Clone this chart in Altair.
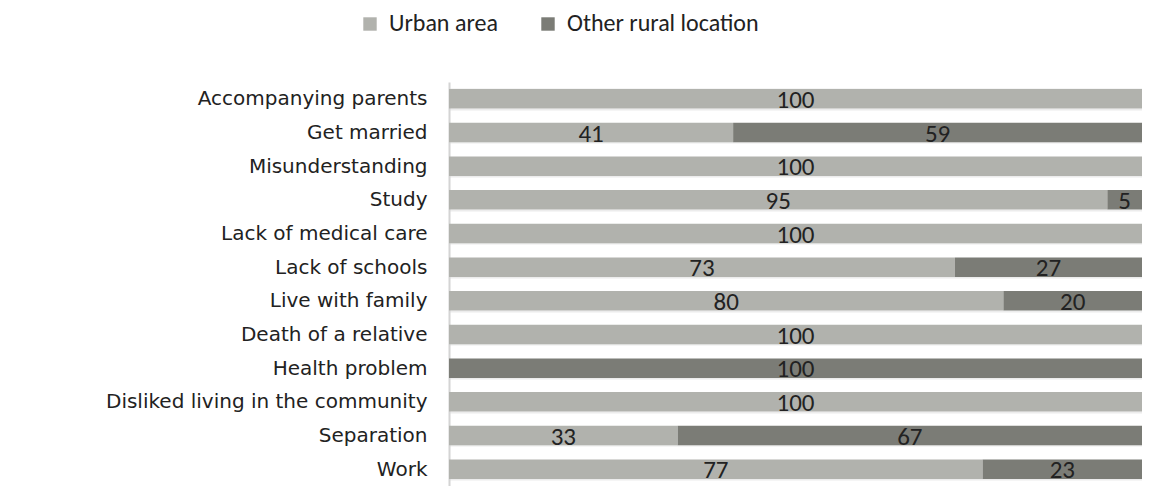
import altair as alt
import pandas as pd

categories = [
    "Accompanying parents", "Get married", "Misunderstanding", "Study",
    "Lack of medical care", "Lack of schools", "Live with family",
    "Death of a relative", "Health problem", "Disliked living in the community",
    "Separation", "Work",
]
urban = [100, 41, 100, 95, 100, 73, 80, 100, 0, 100, 33, 77]
other_rural = [0, 59, 0, 5, 0, 27, 20, 0, 100, 0, 67, 23]
series = ["Urban area", "Other rural location"]
colors = ["#b1b2ad", "#7b7c76"]

rows = []
for c, u, o in zip(categories, urban, other_rural):
    rows.append({"cat": c, "series": series[0], "value": u, "ord": 0})
    rows.append({"cat": c, "series": series[1], "value": o, "ord": 1})
df = pd.DataFrame(rows)

y_enc = alt.Y(
    "cat:N", sort=categories, title=None,
    scale=alt.Scale(paddingInner=0.42, paddingOuter=0.21),
    axis=alt.Axis(
        labelFont="DejaVu Sans", labelFontSize=20, labelColor="#222222",
        labelPadding=22, ticks=False, domainColor="#d4d4d4", domainWidth=2,
        grid=True, gridColor="#ececec", gridWidth=2, tickBand="extent",
        labelLimit=600,
    ),
)

bars = alt.Chart(df).mark_bar().encode(
    y=y_enc,
    x=alt.X("value:Q", stack="zero", scale=alt.Scale(domain=[0, 100]), axis=None),
    color=alt.Color(
        "series:N", sort=series,
        scale=alt.Scale(domain=series, range=colors),
        legend=alt.Legend(
            title=None, orient="none", direction="horizontal",
            legendX=-91, legendY=-70, symbolType="square", symbolSize=180,
            symbolStrokeWidth=0, labelFont="Carlito, Liberation Sans", labelFontSize=24,
            labelColor="#222222", labelOffset=7, columnPadding=38, padding=0,
            labelLimit=0,
        ),
    ),
    order=alt.Order("ord:Q"),
)

labels = alt.Chart(df).transform_stack(
    stack="value", groupby=["cat"], as_=["v0", "v1"],
    sort=[alt.SortField("ord", order="ascending")],
).transform_filter("datum.value > 0").transform_calculate(
    mid="(datum.v0 + datum.v1) / 2"
).mark_text(
    font="Carlito, Lato", fontSize=25, color="#222222", baseline="middle", dy=1
).encode(
    y=alt.Y("cat:N", sort=categories),
    x=alt.X("mid:Q"),
    text=alt.Text("value:Q"),
)

chart = alt.layer(bars, labels).properties(
    width=693, height=404,
    autosize=alt.AutoSizeParams(type="none"),
    padding={"left": 441, "top": 74, "right": 0, "bottom": 0},
).configure_view(stroke=None)

chart.save("out.html", embed_options={"renderer": "svg", "actions": False})
